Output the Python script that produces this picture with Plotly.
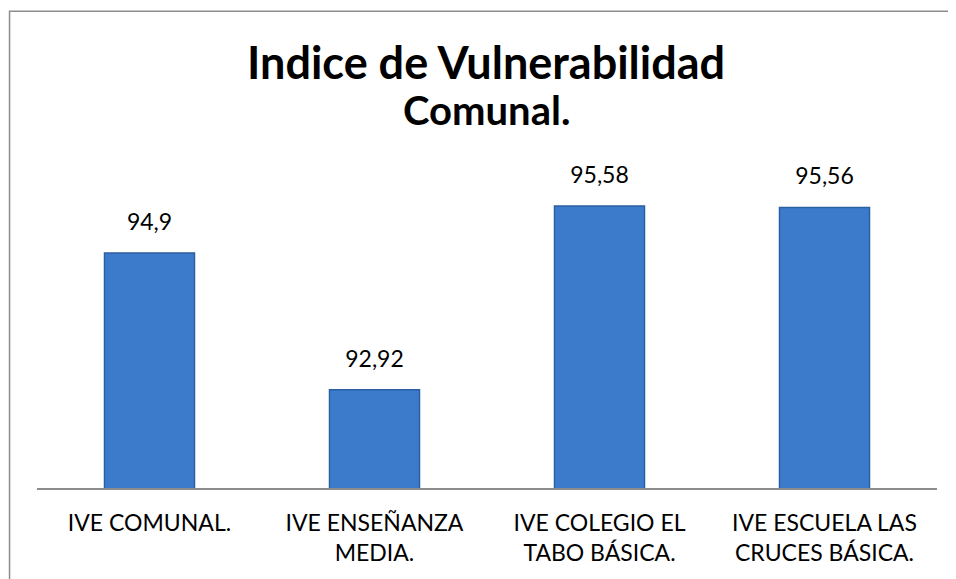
import plotly.graph_objects as go

categories = ["IVE COMUNAL.", "IVE ENSEÑANZA<br>MEDIA.", "IVE COLEGIO EL<br>TABO BÁSICA.", "IVE ESCUELA LAS<br>CRUCES BÁSICA."]
values = [94.9, 92.92, 95.58, 95.56]
labels = [str(v).replace(".", ",") for v in values]

fig = go.Figure()
fig.add_trace(go.Bar(
    x=categories, y=values,
    marker=dict(color="#3c7bcc", line=dict(color="#2c5f9f", width=1.5)),
    hoverinfo="skip",
))
fig.add_trace(go.Scatter(
    x=categories, y=values, mode="markers+text",
    text=labels, textposition="top center",
    textfont=dict(family="Lato", size=23, color="#000000"),
    marker=dict(size=26, opacity=0),
    cliponaxis=False,
))

fig.update_layout(
    width=948, height=571,
    margin=dict(l=29, r=19, t=169, b=91),
    paper_bgcolor="white", plot_bgcolor="white",
    bargap=0.6,
    showlegend=False,
    font=dict(family="Lato", color="#000000"),
    xaxis=dict(showline=True, linecolor="#8c8c8c", linewidth=1.5, ticks="",
               ticklabelstandoff=14,
               tickfont=dict(family="Lato", size=23, color="#000000")),
    yaxis=dict(range=[91.5, 96], visible=False, showgrid=False),
    annotations=[
        dict(text="<b>Indice de Vulnerabilidad</b>", xref="paper", yref="paper",
             x=0.499, y=1.37, xanchor="center", yanchor="middle", showarrow=False,
             font=dict(family="Lato", size=45, color="#000000")),
        dict(text="<b>Comunal.</b>", xref="paper", yref="paper",
             x=0.499, y=1.215, xanchor="center", yanchor="middle", showarrow=False,
             font=dict(family="Lato", size=40, color="#000000")),
    ],
    shapes=[dict(type="rect", xref="paper", yref="paper",
                 x0=-0.0305, x1=1.1, y0=-0.6, y1=1.533,
                 line=dict(color="#8c8c8c", width=1.5), layer="below")],
)

fig.write_html("out.html")
